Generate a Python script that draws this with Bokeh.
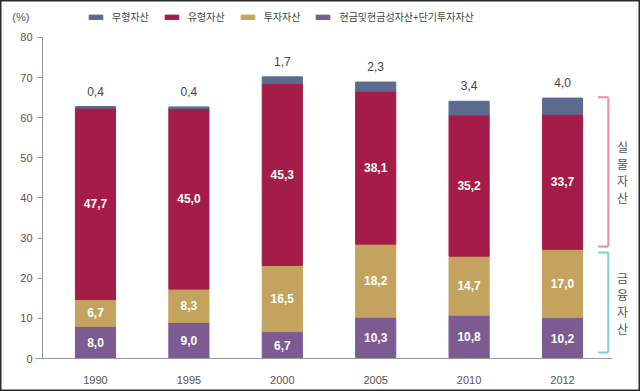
from bokeh.plotting import figure
from bokeh.models import ColumnDataSource, Range1d, FixedTicker, Legend, LegendItem, Label
from bokeh.embed import file_html
from bokeh.resources import INLINE
from bokeh.core.properties import value

# ---- data ----
years = ["1990", "1995", "2000", "2005", "2010", "2012"]
cash = [8.0, 9.0, 6.7, 10.3, 10.8, 10.2]          # 현금및현금성자산+단기투자자산
invest = [6.7, 8.3, 16.5, 18.2, 14.7, 17.0]       # 투자자산
tangible = [47.7, 45.0, 45.3, 38.1, 35.2, 33.7]   # 유형자산
intangible = [0.4, 0.4, 1.7, 2.3, 3.4, 4.0]       # 무형자산
series_names = ["무형자산", "유형자산", "투자자산", "현금및현금성자산+단기투자자산"]
y_ticks = [0, 10, 20, 30, 40, 50, 60, 70, 80]
group_names = ["실물자산", "금융자산"]

colors = {"cash": "#7c5a92", "invest": "#c4a35e", "tangible": "#a51c49", "intangible": "#5b6b8f"}
KR = "Noto Sans CJK KR"
NUM = "Liberation Sans"


def fmt(v):
    return f"{v:.1f}".replace(".", ",")


x = list(range(len(years)))
b1 = cash
b2 = [a + b for a, b in zip(b1, invest)]
b3 = [a + b for a, b in zip(b2, tangible)]
tot = [a + b for a, b in zip(b3, intangible)]

src = ColumnDataSource(dict(x=x, cash=cash, invest=invest, tangible=tangible, intangible=intangible))

X0, X1 = -0.567, 5.536      # extent of the drawn x axis
p = figure(width=640, height=391, output_backend="svg", toolbar_location=None,
           x_range=Range1d(-1.017, 5.835), y_range=Range1d(-8.224, 89.22),
           min_border_left=0, min_border_right=0, min_border_top=0, min_border_bottom=0)
p.outline_line_color = "#2a2a2a"
p.outline_line_width = 2
p.xgrid.grid_line_color = None
p.ygrid.grid_line_color = None
p.background_fill_color = "white"
p.border_fill_color = "white"

rs = p.vbar_stack(["cash", "invest", "tangible", "intangible"], x="x", width=0.43, source=src,
                  color=[colors["cash"], colors["invest"], colors["tangible"], colors["intangible"]])

# inside labels
in_x, in_y, in_t = [], [], []
for i in x:
    for lo, hi, v in [(0, b1[i], cash[i]), (b1[i], b2[i], invest[i]), (b2[i], b3[i], tangible[i])]:
        in_x.append(i)
        in_y.append((lo + hi) / 2)
        in_t.append(fmt(v))
p.text(x=in_x, y=in_y, text=in_t, text_align="center", text_baseline="middle",
       text_color="white", text_font=value(NUM), text_font_style="bold",
       text_font_size="12px")

# top labels
p.text(x=x, y=tot, text=[fmt(v) for v in intangible], text_align="center", text_baseline="bottom",
       y_offset=-11, text_color="#444444", text_font=value(NUM), text_font_size="12px")

# brackets on the right, based on the last bar
last = x[-1]
fin = b2[-1]
xl = last + 0.49
xt = last + 0.38
p.segment(x0=[xt, xl, xl], y0=[tot[-1] + 0.2, tot[-1] + 0.2, fin + 0.7],
          x1=[xl, xl, xt], y1=[tot[-1] + 0.2, fin + 0.7, fin + 0.7],
          line_color="#f08ca0", line_width=2)
p.segment(x0=[xt, xl, xl], y0=[fin - 0.8, fin - 0.8, 1.5],
          x1=[xl, xl, xt], y1=[fin - 0.8, 1.5, 1.5],
          line_color="#7ccfd8", line_width=2)
for name, yc in [(group_names[0], (tot[-1] + fin) / 2 + 0.5), (group_names[1], fin / 2 + 0.3)]:
    p.add_layout(Label(x=last + 0.643, y=yc, text="\n".join(name), text_align="center",
                       text_baseline="middle", text_font=KR, text_font_size="12px",
                       text_color="#555555", text_line_height=1.0))

# (%) label
p.add_layout(Label(x=-0.80, y=85, text="(%)", text_align="center", text_baseline="middle",
                   text_font=NUM, text_font_size="11px", text_color="#555555"))

# axes (drawn inside the frame at fixed locations)
p.xaxis.fixed_location = 0
p.xaxis.bounds = (X0 - 0.08, X1)
p.xaxis.ticker = FixedTicker(ticks=x)
p.xaxis.major_label_overrides = {i: y for i, y in zip(x, years)}
p.xaxis.major_tick_line_color = None
p.xaxis.minor_tick_line_color = None
p.xaxis.axis_line_color = "#9a9a9a"
p.xaxis.major_label_text_font = NUM
p.xaxis.major_label_text_font_style = "normal"
p.xaxis.major_label_text_font_size = "11px"
p.xaxis.major_label_text_color = "#555555"
p.xaxis.major_label_standoff = 11

p.yaxis.fixed_location = X0
p.yaxis.bounds = (0, 80)
p.yaxis.ticker = FixedTicker(ticks=y_ticks)
p.yaxis.minor_tick_line_color = None
p.yaxis.major_tick_in = 0
p.yaxis.major_tick_out = 5
p.yaxis.major_tick_line_color = "#9a9a9a"
p.yaxis.axis_line_color = "#9a9a9a"
p.yaxis.major_label_text_font = NUM
p.yaxis.major_label_text_font_style = "normal"
p.yaxis.major_label_text_font_size = "11px"
p.yaxis.major_label_text_color = "#555555"
p.yaxis.major_label_standoff = 5

# legend
items = [LegendItem(label=series_names[0], renderers=[rs[3]]),
         LegendItem(label=series_names[1], renderers=[rs[2]]),
         LegendItem(label=series_names[2], renderers=[rs[1]]),
         LegendItem(label=series_names[3], renderers=[rs[0]])]
legend = Legend(items=items, orientation="horizontal", location=(87, 367),
                glyph_width=17, glyph_height=6, label_height=12, label_standoff=8, spacing=14,
                padding=0, margin=0, border_line_color=None, background_fill_alpha=0,
                label_text_font=KR, label_text_font_size="10px", label_text_color="#444444")
p.add_layout(legend)

open("out.html", "w").write(file_html(p, INLINE))
